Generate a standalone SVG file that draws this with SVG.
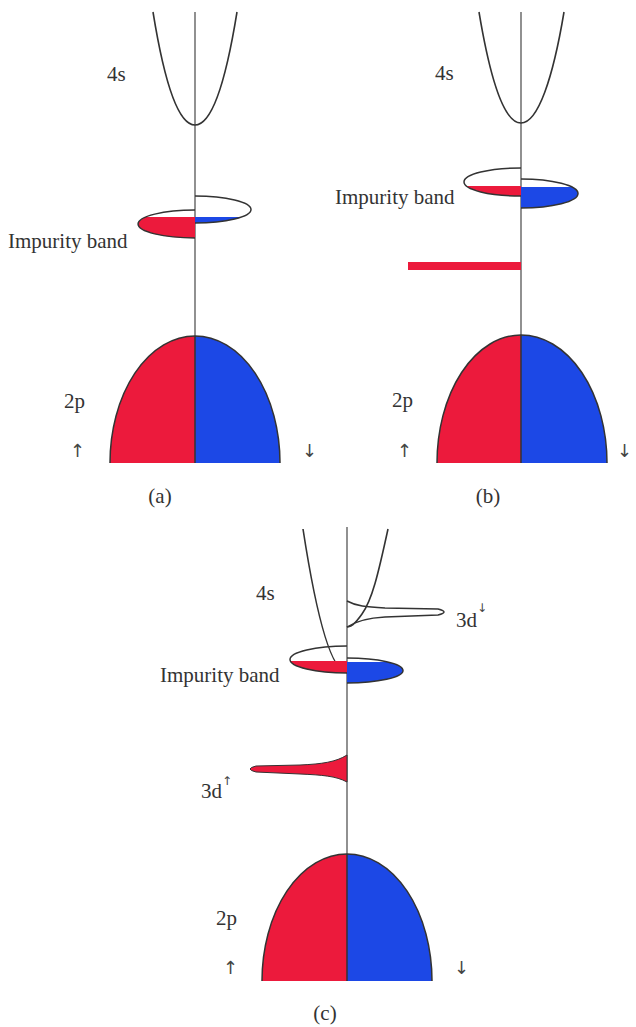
<svg xmlns="http://www.w3.org/2000/svg" width="636" height="1027" viewBox="0 0 636 1027">
<style>
.t{font-family:"Liberation Serif","Times New Roman",serif;font-size:21px;fill:#333}
.ar{font-family:"DejaVu Sans",sans-serif;font-size:18px;fill:#444}
.sup{font-family:"DejaVu Sans",sans-serif;font-size:12px;fill:#444}
.ax{stroke:#555;stroke-width:1.3;fill:none}
.cv{stroke:#333;stroke-width:1.6;fill:none}
.red{fill:#ec1a3c}
.blue{fill:#1c48e6}
.ol{fill:none;stroke:#333;stroke-width:1.5}
</style>
<defs>
<clipPath id="ca1"><path d="M195,210 A57,14 0 0 0 195,238 Z"/></clipPath>
<clipPath id="ca2"><path d="M195,196 A56,13.5 0 0 1 195,223 Z"/></clipPath>
<clipPath id="cb1"><path d="M521,168 A57,14 0 0 0 521,196 Z"/></clipPath>
<clipPath id="cb2"><path d="M521,179 A57,14.5 0 0 1 521,208 Z"/></clipPath>
<clipPath id="cc1"><path d="M347,646 A57,13.5 0 0 0 347,673 Z"/></clipPath>
<clipPath id="cc2"><path d="M347,658 A56,12.5 0 0 1 347,683 Z"/></clipPath>
</defs>
<rect width="636" height="1027" fill="#fff"/>

<g id="panel-a">
  <g id="a-axis"><line class="ax" x1="195" y1="12" x2="195" y2="463"/></g>
  <g id="a-4s">
    <path class="cv" d="M153,12 C164,80 178,125 195,125 C212,125 226,80 237,12"/>
    <text class="t" x="107" y="81">4s</text>
  </g>
  <g id="a-impurity">
    <rect class="red" x="130" y="217" width="65" height="25" clip-path="url(#ca1)"/>
    <rect class="blue" x="195" y="217" width="60" height="10" clip-path="url(#ca2)"/>
    <path class="ol" d="M195,210 A57,14 0 0 0 195,238"/>
    <path class="ol" d="M195,196 A56,13.5 0 0 1 195,223"/>
    <text class="t" x="8" y="248">Impurity band</text>
  </g>
  <g id="a-2p">
    <path class="red" d="M110,463 A85,127 0 0 1 195,336 L195,463 Z"/>
    <path class="blue" d="M195,336 A85,127 0 0 1 280,463 L195,463 Z"/>
    <path class="ol" d="M110,463 A85,127 0 0 1 280,463"/>
    <line x1="195" y1="336" x2="195" y2="463" stroke="#333" stroke-width="1.5"/>
    <text class="t" x="64" y="408">2p</text>
    <text class="ar" x="70" y="457">↑</text>
    <text class="ar" x="302" y="457">↓</text>
  </g>
  <text class="t" x="160" y="503" text-anchor="middle">(a)</text>
</g>

<g id="panel-b">
  <g id="b-axis"><line class="ax" x1="521" y1="12" x2="521" y2="463"/></g>
  <g id="b-4s">
    <path class="cv" d="M479,12 C490,78 504,123 521,123 C538,123 553,78 564,12"/>
    <text class="t" x="435" y="80">4s</text>
  </g>
  <g id="b-impurity">
    <rect class="red" x="460" y="186" width="61" height="14" clip-path="url(#cb1)"/>
    <rect class="blue" x="521" y="187" width="62" height="25" clip-path="url(#cb2)"/>
    <path class="ol" d="M521,168 A57,14 0 0 0 521,196"/>
    <path class="ol" d="M521,179 A57,14.5 0 0 1 521,208"/>
    <text class="t" x="335" y="204">Impurity band</text>
  </g>
  <g id="b-level"><rect class="red" x="408" y="262" width="113" height="8"/></g>
  <g id="b-2p">
    <path class="red" d="M437,463 A84,128 0 0 1 521,335 L521,463 Z"/>
    <path class="blue" d="M521,335 A86,128 0 0 1 607,463 L521,463 Z"/>
    <path class="ol" d="M437,463 A84,128 0 0 1 521,335 A86,128 0 0 1 607,463"/>
    <line x1="521" y1="335" x2="521" y2="463" stroke="#333" stroke-width="1.5"/>
    <text class="t" x="392" y="407">2p</text>
    <text class="ar" x="397" y="457">↑</text>
    <text class="ar" x="617" y="457">↓</text>
  </g>
  <text class="t" x="488" y="503" text-anchor="middle">(b)</text>
</g>

<g id="panel-c">
  <g id="c-axis"><line class="ax" x1="347" y1="527" x2="347" y2="981"/></g>
  <g id="c-4s">
    <path class="cv" d="M303,529 Q325,672 347,672"/>
    <path class="cv" d="M388,529 C378,575 372,600 362,614 S350,626 347,627"/>
    <text class="t" x="256" y="600">4s</text>
  </g>
  <g id="c-3d-down">
    <path class="ol" d="M347,601 C356,606 366,607 385,608 L438,609 Q450,612 438,615 L385,617 C366,618 356,621 347,627"/>
    <text class="t" x="456" y="627">3d</text>
    <text class="sup" x="477" y="612">↓</text>
  </g>
  <g id="c-impurity">
    <rect class="red" x="285" y="661" width="62" height="16" clip-path="url(#cc1)"/>
    <rect class="blue" x="347" y="662" width="62" height="25" clip-path="url(#cc2)"/>
    <path class="ol" d="M347,646 A57,13.5 0 0 0 347,673"/>
    <path class="ol" d="M347,658 A56,12.5 0 0 1 347,683"/>
    <text class="t" x="160" y="682">Impurity band</text>
  </g>
  <g id="c-3d-up">
    <path class="red" stroke="#333" stroke-width="1" d="M347,755 C336,762 322,764 300,765 L256,766 Q244,769 256,772 L300,774 C322,775 336,776 347,782 Z"/>
    <text class="t" x="201" y="798">3d</text>
    <text class="sup" x="222" y="785">↑</text>
  </g>
  <g id="c-2p">
    <path class="red" d="M262,981 A85,127 0 0 1 347,854 L347,981 Z"/>
    <path class="blue" d="M347,854 A85,127 0 0 1 432,981 L347,981 Z"/>
    <path class="ol" d="M262,981 A85,127 0 0 1 432,981"/>
    <line x1="347" y1="854" x2="347" y2="981" stroke="#333" stroke-width="1.5"/>
    <text class="t" x="216" y="925">2p</text>
    <text class="ar" x="223" y="974">↑</text>
    <text class="ar" x="454" y="974">↓</text>
  </g>
  <text class="t" x="325" y="1020" text-anchor="middle">(c)</text>
</g>
</svg>
